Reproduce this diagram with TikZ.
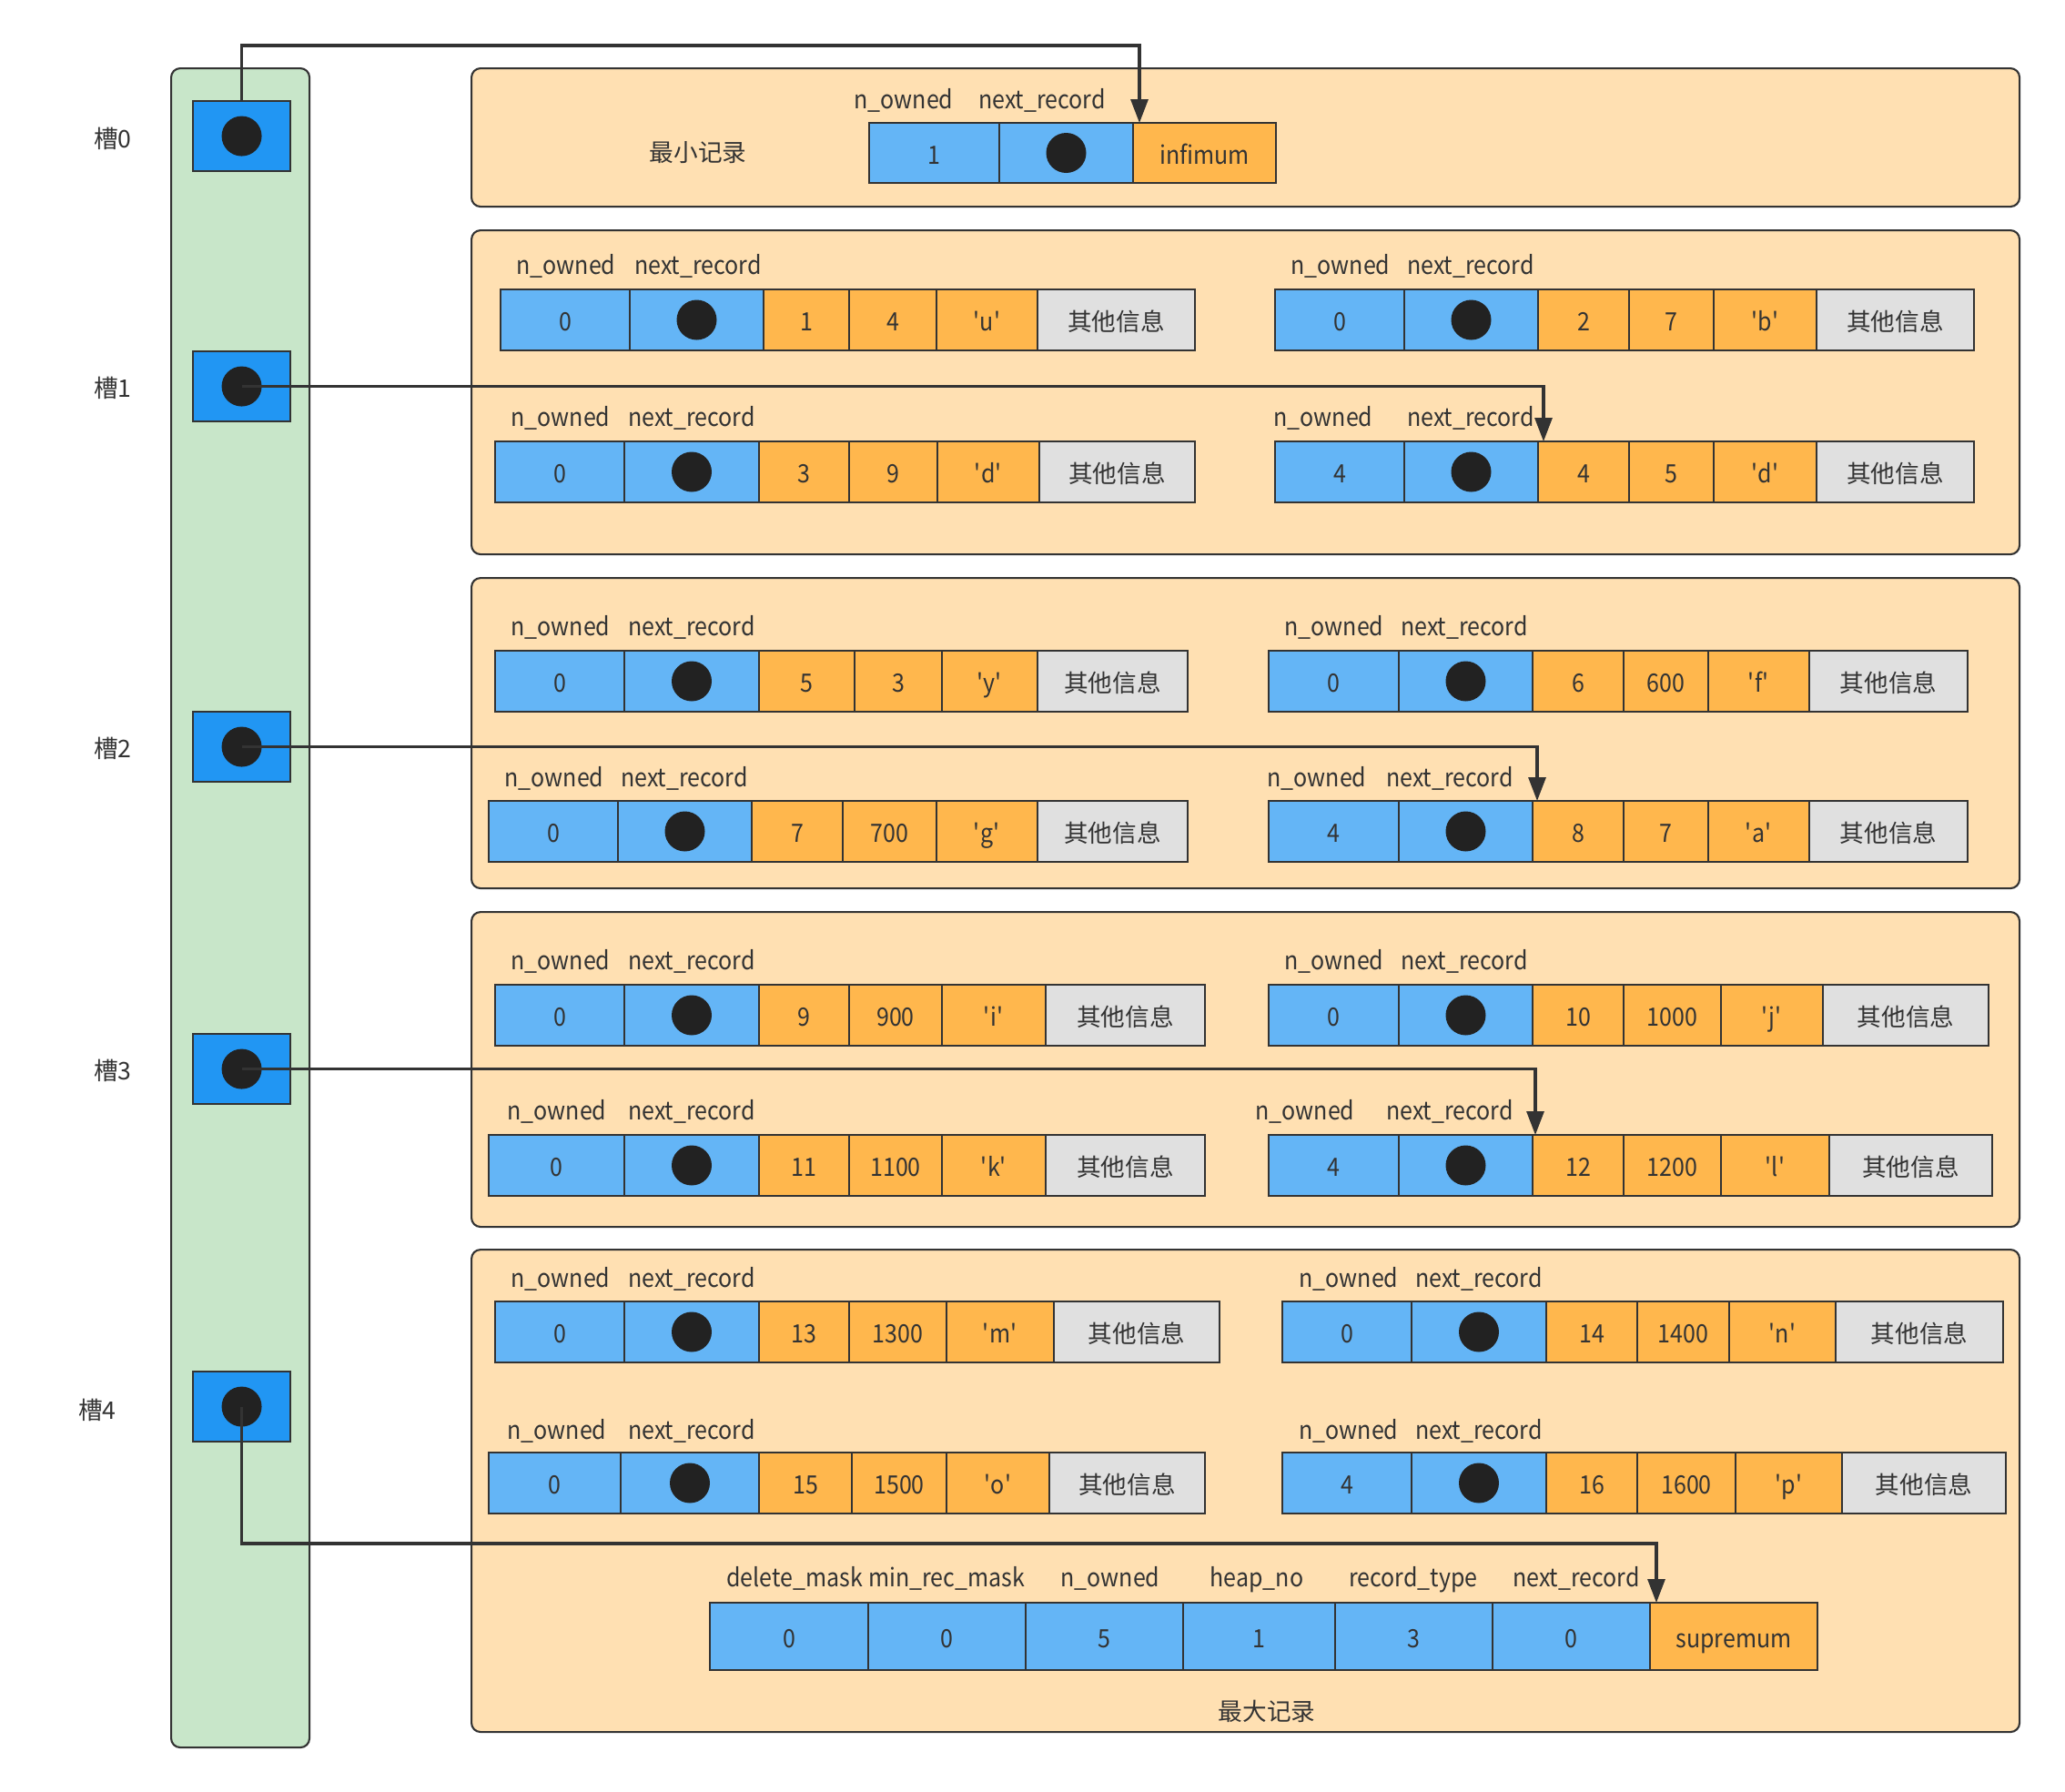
\documentclass[tikz,border=0pt]{standalone}
\usepackage{fontspec}
\setmainfont{Noto Sans CJK SC}[FakeStretch=0.9]
\newfontfamily\cjk{Noto Sans CJK SC}[Scale=0.96]
\usetikzlibrary{arrows.meta}
\definecolor{peach}{HTML}{FFE0B2}
\definecolor{mint}{HTML}{C8E6C9}
\definecolor{lblue}{HTML}{64B5F6}
\definecolor{sblue}{HTML}{2196F3}
\definecolor{orng}{HTML}{FFB74D}
\definecolor{grey}{HTML}{E0E0E0}
\definecolor{edge}{HTML}{333333}
\definecolor{dotc}{HTML}{222222}
\definecolor{txt}{HTML}{333333}
\newcommand{\qt}[1]{\textquotesingle#1\textquotesingle}
\begin{document}
\begin{tikzpicture}[x=1mm, y=-1mm,
    font=\fontsize{7.9pt}{9pt}\selectfont, text=txt,
    every node/.append style={text height=2.8mm, text depth=0.4mm},
    cell/.style={draw=edge, line width=0.5pt, anchor=north west, minimum height=6.7mm, inner sep=0pt, outer sep=0pt},
    bcell/.style={cell, fill=lblue},
    dcell/.style={bcell, path picture={\fill[dotc] (path picture bounding box.center) circle (2.2mm);}},
    ocell/.style={cell, fill=orng},
    gcell/.style={cell, fill=grey, font=\fontsize{7.9pt}{9pt}\cjk},
    grp/.style={draw=edge, fill=peach, rounded corners=1mm, line width=0.6pt, anchor=north west, inner sep=0pt},
    slotbox/.style={draw=edge, fill=sblue, line width=0.6pt, anchor=north west, minimum width=10.7mm, minimum height=7.7mm, inner sep=0pt,
        path picture={\fill[dotc] (path picture bounding box.center) circle (2.2mm);}},
    link/.style={draw=edge, line width=0.9pt, -{Triangle[length=2.6mm,width=1.9mm]}}]

    \fill[white] (0,0) rectangle (226.9,196.9);
    \useasboundingbox (0,0) rectangle (226.9,196.9);

    % slot column
    \node[draw=edge, fill=mint, rounded corners=1mm, line width=0.6pt, anchor=north west, minimum width=15.2mm, minimum height=184.5mm] (col) at (18.7,7.4) {};
    \node[slotbox] (s0) at (21.1,11.0) {};
    \node[slotbox] (s1) at (21.1,38.5) {};
    \node[slotbox] (s2) at (21.1,78.1) {};
    \node[slotbox] (s3) at (21.1,113.5) {};
    \node[slotbox] (s4) at (21.1,150.6) {};
    \node (l0) at (12.4,15.0) {\cjk 槽0};
    \node (l1) at (12.4,42.4) {\cjk 槽1};
    \node (l2) at (12.4,82.0) {\cjk 槽2};
    \node (l3) at (12.4,117.4) {\cjk 槽3};
    \node (l4) at (10.7,154.7) {\cjk 槽4};

    % groups
    \node[grp, minimum width=170.1mm, minimum height=15.2mm] (g0) at (51.7,7.4) {};
    \node[grp, minimum width=170.1mm, minimum height=35.6mm] (g1) at (51.7,25.2) {};
    \node[grp, minimum width=170.1mm, minimum height=34.1mm] (g2) at (51.7,63.4) {};
    \node[grp, minimum width=170.1mm, minimum height=34.6mm] (g3) at (51.7,100.1) {};
    \node[grp, minimum width=170.1mm, minimum height=53.0mm] (g4) at (51.7,137.2) {};

    % minimum record
    \node (minlab) at (76.7,16.5) {\cjk 最小记录};
    \node (g0-no) at (99.3,10.7) {n\_owned};
    \node (g0-nr) at (114.5,10.7) {next\_record};
    \node[bcell, minimum width=14.3mm, minimum height=6.6mm] (g0-1) at (95.5,13.5) {1};
    \node[dcell, minimum width=14.7mm, minimum height=6.6mm] (g0-2) at (109.8,13.5) {};
    \node[ocell, minimum width=15.7mm, minimum height=6.6mm] (inf) at (124.5,13.5) {infimum};

    % group 1
    \node (g1tl-no) at (62.2,28.9) {n\_owned};
    \node (g1tl-nr) at (76.7,28.9) {next\_record};
    \node[bcell, minimum width=14.2mm] (g1tl-1) at (55.0,31.8) {0};
    \node[dcell, minimum width=14.7mm] (g1tl-2) at (69.2,31.8) {};
    \node[ocell, minimum width=9.4mm] (g1tl-3) at (83.9,31.8) {1};
    \node[ocell, minimum width=9.6mm] (g1tl-4) at (93.3,31.8) {4};
    \node[ocell, minimum width=11.1mm] (g1tl-5) at (102.9,31.8) {\qt{u}};
    \node[gcell, minimum width=17.3mm] (g1tl-6) at (114.0,31.8) {其他信息};

    \node (g1tr-no) at (147.3,28.9) {n\_owned};
    \node (g1tr-nr) at (161.6,28.9) {next\_record};
    \node[bcell, minimum width=14.2mm] (g1tr-1) at (140.1,31.8) {0};
    \node[dcell, minimum width=14.7mm] (g1tr-2) at (154.3,31.8) {};
    \node[ocell, minimum width=10.0mm] (g1tr-3) at (169.0,31.8) {2};
    \node[ocell, minimum width=9.3mm] (g1tr-4) at (179.0,31.8) {7};
    \node[ocell, minimum width=11.3mm] (g1tr-5) at (188.3,31.8) {\qt{b}};
    \node[gcell, minimum width=17.3mm] (g1tr-6) at (199.6,31.8) {其他信息};

    \node (g1bl-no) at (61.6,45.6) {n\_owned};
    \node (g1bl-nr) at (76.0,45.6) {next\_record};
    \node[bcell, minimum width=14.2mm] (g1bl-1) at (54.4,48.5) {0};
    \node[dcell, minimum width=14.8mm] (g1bl-2) at (68.6,48.5) {};
    \node[ocell, minimum width=9.9mm] (g1bl-3) at (83.4,48.5) {3};
    \node[ocell, minimum width=9.7mm] (g1bl-4) at (93.3,48.5) {9};
    \node[ocell, minimum width=11.2mm] (g1bl-5) at (103.0,48.5) {\qt{d}};
    \node[gcell, minimum width=17.1mm] (g1bl-6) at (114.2,48.5) {其他信息};

    \node (g1br-no) at (145.4,45.6) {n\_owned};
    \node (g1br-nr) at (161.6,45.6) {next\_record};
    \node[bcell, minimum width=14.2mm] (g1br-1) at (140.1,48.5) {4};
    \node[dcell, minimum width=14.7mm] (g1br-2) at (154.3,48.5) {};
    \node[ocell, minimum width=10.0mm] (g1br-3) at (169.0,48.5) {4};
    \node[ocell, minimum width=9.3mm] (g1br-4) at (179.0,48.5) {5};
    \node[ocell, minimum width=11.3mm] (g1br-5) at (188.3,48.5) {\qt{d}};
    \node[gcell, minimum width=17.3mm] (g1br-6) at (199.6,48.5) {其他信息};

    % group 2
    \node (g2tl-no) at (61.6,68.6) {n\_owned};
    \node (g2tl-nr) at (76.0,68.6) {next\_record};
    \node[bcell, minimum width=14.2mm] (g2tl-1) at (54.4,71.5) {0};
    \node[dcell, minimum width=14.8mm] (g2tl-2) at (68.6,71.5) {};
    \node[ocell, minimum width=10.5mm] (g2tl-3) at (83.4,71.5) {5};
    \node[ocell, minimum width=9.6mm] (g2tl-4) at (93.9,71.5) {3};
    \node[ocell, minimum width=10.5mm] (g2tl-5) at (103.5,71.5) {\qt{y}};
    \node[gcell, minimum width=16.5mm] (g2tl-6) at (114.0,71.5) {其他信息};

    \node (g2tr-no) at (146.6,68.6) {n\_owned};
    \node (g2tr-nr) at (160.9,68.6) {next\_record};
    \node[bcell, minimum width=14.3mm] (g2tr-1) at (139.4,71.5) {0};
    \node[dcell, minimum width=14.7mm] (g2tr-2) at (153.7,71.5) {};
    \node[ocell, minimum width=10.0mm] (g2tr-3) at (168.4,71.5) {6};
    \node[ocell, minimum width=9.3mm] (g2tr-4) at (178.4,71.5) {600};
    \node[ocell, minimum width=11.1mm] (g2tr-5) at (187.7,71.5) {\qt{f}};
    \node[gcell, minimum width=17.4mm] (g2tr-6) at (198.8,71.5) {其他信息};

    \node (g2bl-no) at (60.9,85.2) {n\_owned};
    \node (g2bl-nr) at (75.2,85.2) {next\_record};
    \node[bcell, minimum width=14.2mm] (g2bl-1) at (53.7,88.0) {0};
    \node[dcell, minimum width=14.7mm] (g2bl-2) at (67.9,88.0) {};
    \node[ocell, minimum width=10.0mm] (g2bl-3) at (82.6,88.0) {7};
    \node[ocell, minimum width=10.3mm] (g2bl-4) at (92.6,88.0) {700};
    \node[ocell, minimum width=11.1mm] (g2bl-5) at (102.9,88.0) {\qt{g}};
    \node[gcell, minimum width=16.5mm] (g2bl-6) at (114.0,88.0) {其他信息};

    \node (g2br-no) at (144.7,85.2) {n\_owned};
    \node (g2br-nr) at (159.3,85.2) {next\_record};
    \node[bcell, minimum width=14.3mm] (g2br-1) at (139.4,88.0) {4};
    \node[dcell, minimum width=14.7mm] (g2br-2) at (153.7,88.0) {};
    \node[ocell, minimum width=10.0mm] (g2br-3) at (168.4,88.0) {8};
    \node[ocell, minimum width=9.3mm] (g2br-4) at (178.4,88.0) {7};
    \node[ocell, minimum width=11.1mm] (g2br-5) at (187.7,88.0) {\qt{a}};
    \node[gcell, minimum width=17.4mm] (g2br-6) at (198.8,88.0) {其他信息};

    % group 3
    \node (g3tl-no) at (61.6,105.3) {n\_owned};
    \node (g3tl-nr) at (76.0,105.3) {next\_record};
    \node[bcell, minimum width=14.2mm] (g3tl-1) at (54.4,108.2) {0};
    \node[dcell, minimum width=14.8mm] (g3tl-2) at (68.6,108.2) {};
    \node[ocell, minimum width=9.9mm] (g3tl-3) at (83.4,108.2) {9};
    \node[ocell, minimum width=10.2mm] (g3tl-4) at (93.3,108.2) {900};
    \node[ocell, minimum width=11.4mm] (g3tl-5) at (103.5,108.2) {\qt{i}};
    \node[gcell, minimum width=17.5mm] (g3tl-6) at (114.9,108.2) {其他信息};

    \node (g3tr-no) at (146.6,105.3) {n\_owned};
    \node (g3tr-nr) at (160.9,105.3) {next\_record};
    \node[bcell, minimum width=14.3mm] (g3tr-1) at (139.4,108.2) {0};
    \node[dcell, minimum width=14.7mm] (g3tr-2) at (153.7,108.2) {};
    \node[ocell, minimum width=10.0mm] (g3tr-3) at (168.4,108.2) {10};
    \node[ocell, minimum width=10.7mm] (g3tr-4) at (178.4,108.2) {1000};
    \node[ocell, minimum width=11.2mm] (g3tr-5) at (189.1,108.2) {\qt{j}};
    \node[gcell, minimum width=18.2mm] (g3tr-6) at (200.3,108.2) {其他信息};

    \node (g3bl-no) at (61.2,121.8) {n\_owned};
    \node (g3bl-nr) at (76.0,121.8) {next\_record};
    \node[bcell, minimum width=14.9mm] (g3bl-1) at (53.7,124.7) {0};
    \node[dcell, minimum width=14.8mm] (g3bl-2) at (68.6,124.7) {};
    \node[ocell, minimum width=9.9mm] (g3bl-3) at (83.4,124.7) {11};
    \node[ocell, minimum width=10.2mm] (g3bl-4) at (93.3,124.7) {1100};
    \node[ocell, minimum width=11.4mm] (g3bl-5) at (103.5,124.7) {\qt{k}};
    \node[gcell, minimum width=17.5mm] (g3bl-6) at (114.9,124.7) {其他信息};

    \node (g3br-no) at (143.4,121.8) {n\_owned};
    \node (g3br-nr) at (159.3,121.8) {next\_record};
    \node[bcell, minimum width=14.3mm] (g3br-1) at (139.4,124.7) {4};
    \node[dcell, minimum width=14.7mm] (g3br-2) at (153.7,124.7) {};
    \node[ocell, minimum width=10.0mm] (g3br-3) at (168.4,124.7) {12};
    \node[ocell, minimum width=10.7mm] (g3br-4) at (178.4,124.7) {1200};
    \node[ocell, minimum width=11.9mm] (g3br-5) at (189.1,124.7) {\qt{l}};
    \node[gcell, minimum width=17.9mm] (g3br-6) at (201.0,124.7) {其他信息};

    % group 4
    \node (g4tl-no) at (61.6,140.2) {n\_owned};
    \node (g4tl-nr) at (76.0,140.2) {next\_record};
    \node[bcell, minimum width=14.2mm] (g4tl-1) at (54.4,143.0) {0};
    \node[dcell, minimum width=14.8mm] (g4tl-2) at (68.6,143.0) {};
    \node[ocell, minimum width=9.9mm] (g4tl-3) at (83.4,143.0) {13};
    \node[ocell, minimum width=10.7mm] (g4tl-4) at (93.3,143.0) {1300};
    \node[ocell, minimum width=11.8mm] (g4tl-5) at (104.0,143.0) {\qt{m}};
    \node[gcell, minimum width=18.2mm] (g4tl-6) at (115.8,143.0) {其他信息};

    \node (g4tr-no) at (148.2,140.2) {n\_owned};
    \node (g4tr-nr) at (162.5,140.2) {next\_record};
    \node[bcell, minimum width=14.2mm] (g4tr-1) at (140.9,143.0) {0};
    \node[dcell, minimum width=14.8mm] (g4tr-2) at (155.1,143.0) {};
    \node[ocell, minimum width=10.0mm] (g4tr-3) at (169.9,143.0) {14};
    \node[ocell, minimum width=10.1mm] (g4tr-4) at (179.9,143.0) {1400};
    \node[ocell, minimum width=11.7mm] (g4tr-5) at (190.0,143.0) {\qt{n}};
    \node[gcell, minimum width=18.4mm] (g4tr-6) at (201.7,143.0) {其他信息};

    \node (g4bl-no) at (61.2,156.9) {n\_owned};
    \node (g4bl-nr) at (76.0,156.9) {next\_record};
    \node[bcell, minimum width=14.5mm] (g4bl-1) at (53.7,159.6) {0};
    \node[dcell, minimum width=15.2mm] (g4bl-2) at (68.2,159.6) {};
    \node[ocell, minimum width=10.2mm] (g4bl-3) at (83.4,159.6) {15};
    \node[ocell, minimum width=10.4mm] (g4bl-4) at (93.6,159.6) {1500};
    \node[ocell, minimum width=11.3mm] (g4bl-5) at (104.0,159.6) {\qt{o}};
    \node[gcell, minimum width=17.1mm] (g4bl-6) at (115.3,159.6) {其他信息};

    \node (g4br-no) at (148.2,156.9) {n\_owned};
    \node (g4br-nr) at (162.5,156.9) {next\_record};
    \node[bcell, minimum width=14.2mm] (g4br-1) at (140.9,159.6) {4};
    \node[dcell, minimum width=14.8mm] (g4br-2) at (155.1,159.6) {};
    \node[ocell, minimum width=10.0mm] (g4br-3) at (169.9,159.6) {16};
    \node[ocell, minimum width=10.8mm] (g4br-4) at (179.9,159.6) {1600};
    \node[ocell, minimum width=11.7mm] (g4br-5) at (190.7,159.6) {\qt{p}};
    \node[gcell, minimum width=18.0mm] (g4br-6) at (202.4,159.6) {其他信息};

    % maximum record
    \node (sup-dm) at (87.3,173.1) {delete\_mask};
    \node (sup-mr) at (104.0,173.1) {min\_rec\_mask};
    \node (sup-no) at (122.0,173.1) {n\_owned};
    \node (sup-hn) at (138.1,173.1) {heap\_no};
    \node (sup-rt) at (155.3,173.1) {record\_type};
    \node (sup-nr) at (173.2,173.1) {next\_record};
    \node[bcell, minimum width=17.4mm, minimum height=7.4mm] (sup-1) at (78.0,176.1) {0};
    \node[bcell, minimum width=17.3mm, minimum height=7.4mm] (sup-2) at (95.4,176.1) {0};
    \node[bcell, minimum width=17.3mm, minimum height=7.4mm] (sup-3) at (112.7,176.1) {5};
    \node[bcell, minimum width=16.7mm, minimum height=7.4mm] (sup-4) at (130.0,176.1) {1};
    \node[bcell, minimum width=17.3mm, minimum height=7.4mm] (sup-5) at (146.7,176.1) {3};
    \node[bcell, minimum width=17.3mm, minimum height=7.4mm] (sup-6) at (164.0,176.1) {0};
    \node[ocell, minimum width=18.4mm, minimum height=7.4mm] (sup) at (181.3,176.1) {supremum};
    \node (maxlab) at (139.2,187.8) {\cjk 最大记录};

    % slot pointers
    \draw[link] (s0.north) -- ++(0,-6) -| ([xshift=.7mm]inf.north west);
    \draw[link] (s1.center) -| ([xshift=.6mm]g1br-3.north west);
    \draw[link] (s2.center) -| ([xshift=.5mm]g2br-3.north west);
    \draw[link] (s3.center) -| ([xshift=.3mm]g3br-3.north west);
    \draw[link] (s4.center) -- ++(0,15.05) -| ([xshift=.7mm]sup.north west);
\end{tikzpicture}
\end{document}
